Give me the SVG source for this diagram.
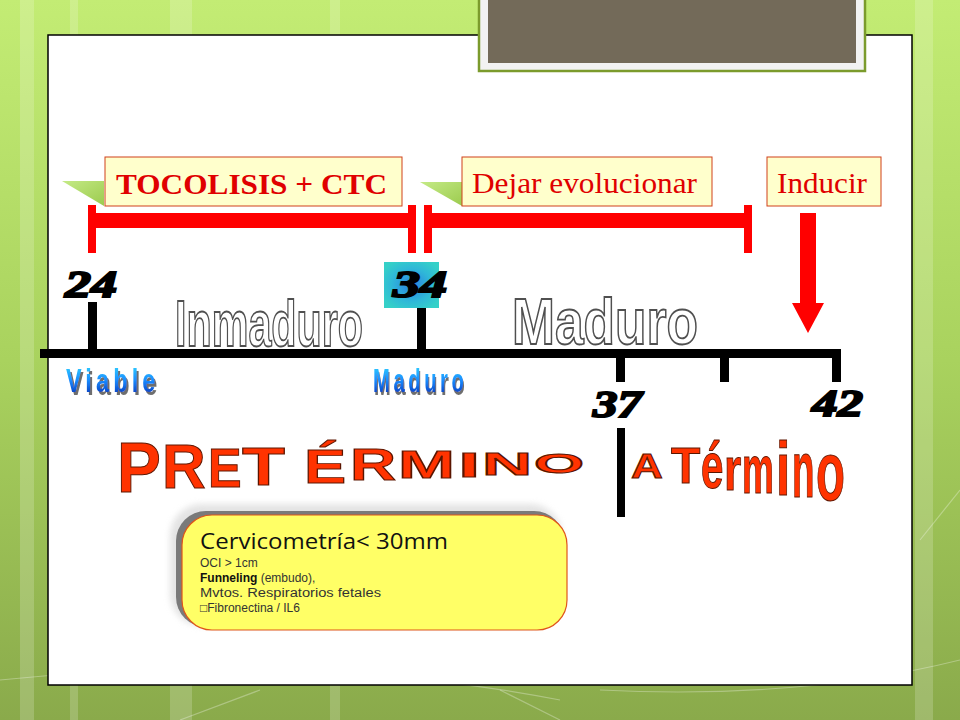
<svg xmlns="http://www.w3.org/2000/svg" width="960" height="720" viewBox="0 0 960 720">
  <defs>
    <linearGradient id="bg" x1="0" y1="0" x2="0" y2="1">
      <stop offset="0" stop-color="#C3EC74"/>
      <stop offset="0.5" stop-color="#A9D25E"/>
      <stop offset="1" stop-color="#8AAA4B"/>
    </linearGradient>
    <linearGradient id="blueTxt" x1="0" y1="0" x2="0" y2="1">
      <stop offset="0" stop-color="#33E0FF"/>
      <stop offset="0.5" stop-color="#1A8CFF"/>
      <stop offset="1" stop-color="#0022AA"/>
    </linearGradient>
    <radialGradient id="teal" cx="0.5" cy="0.5" r="0.6">
      <stop offset="0" stop-color="#2A7FE0"/>
      <stop offset="0.6" stop-color="#2FB8D8"/>
      <stop offset="1" stop-color="#35D0C8"/>
    </radialGradient>
    <linearGradient id="tri" x1="0" y1="0" x2="1" y2="1">
      <stop offset="0" stop-color="#C4EA86"/>
      <stop offset="1" stop-color="#9CCB4E"/>
    </linearGradient>
    <filter id="blur" x="-10%" y="-20%" width="120%" height="140%">
      <feGaussianBlur stdDeviation="3"/>
    </filter>
    <filter id="shadow" x="-10%" y="-20%" width="130%" height="150%">
      <feOffset in="SourceAlpha" dx="2.5" dy="2.5" result="off"/>
      <feFlood flood-color="#6E6E6E"/>
      <feComposite in2="off" operator="in" result="sh"/>
      <feMerge><feMergeNode in="sh"/><feMergeNode in="SourceGraphic"/></feMerge>
    </filter>
    <style>
      .lbl { fill:#FFFFCC; stroke:#D0401A; stroke-width:1; }
      .lbltxt { font-family:"Liberation Serif", "Times New Roman", serif; fill:#E00000; font-size:30px; }
      .red { fill:#FF0000; }
      .blk { fill:#000000; }
      .num { font-family:"Liberation Serif", serif; font-weight:bold; font-style:italic; font-size:38px; fill:#000; stroke:#000; stroke-width:2; }
      .outline { font-family:"Liberation Sans", Arial, sans-serif; font-weight:bold; font-size:64px; fill:#FFFFFF; stroke:#505050; stroke-width:1.8; }
      .blue { font-family:"Liberation Sans", Arial, sans-serif; font-weight:bold; font-size:34px; letter-spacing:6px; fill:url(#blueTxt); filter:url(#shadow); }
      .wa { font-family:"Liberation Sans", Arial, sans-serif; font-weight:bold; fill:#FF3300; stroke:#5A1500; stroke-width:1; }
      .cw { font-family:"Open Sans", "DejaVu Sans", sans-serif; fill:#111111; }
      .cs { font-family:"Liberation Sans", Arial, sans-serif; font-size:12px; fill:#333333; }
    </style>
  </defs>

  <!-- background -->
  <rect x="0" y="0" width="960" height="720" fill="url(#bg)"/>
  <g opacity="0.18" fill="#FFFFFF">
    <rect x="20" y="0" width="14" height="720"/>
    <rect x="70" y="0" width="8" height="720"/>
    <rect x="170" y="0" width="22" height="720"/>
    <rect x="330" y="0" width="10" height="720"/>
    <rect x="915" y="0" width="18" height="720"/>
  </g>
  <g fill="none" stroke="#FFFFFF" stroke-opacity="0.3" stroke-width="1.2">
    <path d="M0,680 Q300,650 560,700"/>
    <path d="M600,690 Q800,700 960,660"/>
    <path d="M180,720 L260,690"/>
    <path d="M500,690 L560,720"/>
    <path d="M920,540 L960,490"/>
  </g>

  <!-- slide panel -->
  <rect x="48" y="35" width="864" height="650" fill="#FFFFFF" stroke="#000000" stroke-width="1.5"/>

  <!-- title frame -->
  <g id="title-box">
    <rect x="479" y="-4" width="386" height="75" fill="#F2F2F2" stroke="#7B9B2C" stroke-width="2.5"/>
    <rect x="488" y="-4" width="368" height="67" fill="#736A59"/>
  </g>

  <!-- label boxes -->
  <g id="box-tocolisis">
    <polygon points="62,181 104,181 104,206" fill="url(#tri)"/>
    <rect class="lbl" x="105" y="157" width="297" height="49"/>
    <text class="lbltxt" x="116" y="194" font-weight="bold" textLength="271" lengthAdjust="spacingAndGlyphs">TOCOLISIS  + CTC</text>
  </g>
  <g id="box-dejar">
    <polygon points="420,182 462,182 462,206" fill="url(#tri)"/>
    <rect class="lbl" x="462" y="157" width="250" height="49"/>
    <text class="lbltxt" x="472" y="193" textLength="225" lengthAdjust="spacingAndGlyphs">Dejar evolucionar</text>
  </g>
  <g id="box-inducir">
    <rect class="lbl" x="767" y="157" width="114" height="49"/>
    <text class="lbltxt" x="777" y="193" textLength="90" lengthAdjust="spacingAndGlyphs">Inducir</text>
  </g>

  <!-- connectors: brackets and arrow -->
  <g id="connectors">
    <rect class="red" x="88" y="213" width="328" height="15"/>
    <rect class="red" x="88" y="205" width="8" height="48"/>
    <rect class="red" x="408" y="205" width="8" height="48"/>
    <rect class="red" x="424" y="213" width="328" height="15"/>
    <rect class="red" x="424" y="205" width="8" height="48"/>
    <rect class="red" x="744" y="205" width="8" height="48"/>
    <rect class="red" x="800" y="213" width="16" height="91"/>
    <polygon class="red" points="792,303 824,303 808,333"/>
  </g>

  <!-- timeline -->
  <g id="timeline">
    <rect class="blk" x="40" y="349" width="801" height="9"/>
    <rect class="blk" x="88" y="302" width="9" height="48"/>
    <rect class="blk" x="417" y="308" width="9" height="42"/>
    <rect class="blk" x="616" y="356" width="9" height="26"/>
    <rect class="blk" x="720" y="356" width="9" height="26"/>
    <rect class="blk" x="832" y="356" width="9" height="26"/>
    <rect class="blk" x="617" y="428" width="8" height="89"/>
  </g>

  <!-- week numbers -->
  <g id="week-24"><text class="num" x="65" y="297" textLength="52" lengthAdjust="spacingAndGlyphs">24</text></g>
  <g id="week-34">
    <rect x="384" y="262" width="55" height="46" fill="url(#teal)"/>
    <text class="num" x="393" y="297" textLength="54" lengthAdjust="spacingAndGlyphs">34</text>
  </g>
  <g id="week-37"><text class="num" x="593" y="417" textLength="49" lengthAdjust="spacingAndGlyphs">37</text></g>
  <g id="week-42"><text class="num" x="812" y="416" textLength="51" lengthAdjust="spacingAndGlyphs">42</text></g>

  <!-- outlined stage labels -->
  <g id="stage-inmaduro"><text class="outline" transform="translate(175,346) scale(0.645,1)">Inmaduro</text></g>
  <g id="stage-maduro"><text class="outline" transform="translate(512,344) scale(0.805,1)">Maduro</text></g>

  <!-- blue labels -->
  <g id="label-viable">
    <text class="blue" transform="translate(66,392) scale(0.69,1)">Viable</text>
  </g>
  <g id="label-maduro">
    <text class="blue" transform="translate(373,392) scale(0.595,1)">Maduro</text>
  </g>

  <!-- PRETÉRMINO wordart -->
  <g id="pretermino">
    <text class="wa" font-size="70" transform="translate(117,492) scale(0.94,1)">P</text>
    <text class="wa" font-size="63" transform="translate(162,488) scale(0.96,1)">R</text>
    <text class="wa" font-size="56" transform="translate(208,487) scale(0.9,1)">E</text>
    <text class="wa" font-size="53" transform="translate(242,485) scale(1.33,1)">T</text>
    <text class="wa" font-size="49" transform="translate(304,483) scale(1.29,1)">É</text>
    <text class="wa" font-size="45" transform="translate(350,480) scale(1.42,1)">R</text>
    <text class="wa" font-size="38" transform="translate(398,478) scale(1.8,1)">M</text>
    <text class="wa" font-size="35" transform="translate(458,477) scale(2.3,1)">I</text>
    <text class="wa" font-size="32" transform="translate(482,475) scale(2.17,1)">N</text>
    <text class="wa" font-size="28" transform="translate(534,473) scale(2.3,1)">O</text>
  </g>

  <!-- A Término wordart -->
  <g id="a-termino">
    <text class="wa" font-size="35" transform="translate(631,478) scale(1.26,1)">A</text>
    <text class="wa" font-size="50" transform="translate(671,483) scale(0.96,1)">T</text>
    <text class="wa" font-size="64" transform="translate(701,488) scale(0.63,1)">é</text>
    <text class="wa" font-size="62" transform="translate(724,490) scale(0.72,1)">r</text>
    <text class="wa" font-size="69" transform="translate(742,493) scale(0.52,1)">m</text>
    <text class="wa" font-size="76" transform="translate(776,495) scale(0.68,1)">i</text>
    <text class="wa" font-size="80" transform="translate(792,497) scale(0.46,1)">n</text>
    <text class="wa" font-size="84" transform="translate(816,500) scale(0.565,1)">o</text>
  </g>

  <!-- callout -->
  <g id="callout">
    <rect x="170" y="504" width="392" height="122" rx="32" fill="#D8D8D8" opacity="0.7" filter="url(#blur)"/>
    <rect x="176" y="511" width="388" height="116" rx="30" fill="#7A7A7A"/>
    <rect x="182" y="515" width="385" height="115" rx="30" fill="#FFFF66" stroke="#E0561A" stroke-width="1.2"/>
    <text class="cw" x="200" y="549" font-size="21" textLength="248" lengthAdjust="spacingAndGlyphs">Cervicometría&lt; 30mm</text>
    <text class="cs" x="200" y="567">OCI &gt; 1cm</text>
    <text class="cs" x="200" y="582"><tspan font-weight="bold" fill="#111111">Funneling</tspan> (embudo),</text>
    <text class="cs" x="200" y="597" textLength="181" lengthAdjust="spacingAndGlyphs">Mvtos. Respiratorios fetales</text>
    <text class="cs" x="200" y="612">□Fibronectina / IL6</text>
  </g>
</svg>
